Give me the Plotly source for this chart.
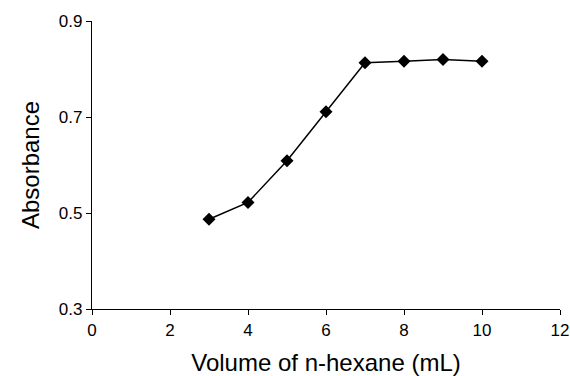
import plotly.graph_objects as go

volume_ml = [3, 4, 5, 6, 7, 8, 9, 10]
absorbance = [0.487, 0.522, 0.609, 0.711, 0.813, 0.816, 0.820, 0.816]
x_ticks = [0, 2, 4, 6, 8, 10, 12]
y_ticks = [0.3, 0.5, 0.7, 0.9]

fig = go.Figure(go.Scatter(
    x=volume_ml, y=absorbance, mode="lines+markers",
    line=dict(color="black", width=1.5),
    marker=dict(symbol="diamond", size=10, color="black"),
    showlegend=False,
))

font = "Liberation Sans, Arial, sans-serif"
fig.update_layout(
    width=570, height=376,
    margin=dict(l=92, r=10, t=21, b=67, autoexpand=False),
    plot_bgcolor="white", paper_bgcolor="white",
    font=dict(family=font, color="black"),
)
fig.update_xaxes(
    range=[0, 12], tickvals=x_ticks, ticktext=[str(v) for v in x_ticks],
    showgrid=False, zeroline=False, showline=True, linecolor="black", linewidth=1.3,
    ticks="outside", ticklen=5, tickwidth=1.3, tickcolor="black",
    tickfont=dict(size=17), automargin=False,
    title=dict(text="Volume of n-hexane (mL)", font=dict(size=24), standoff=17),
)
fig.update_yaxes(
    range=[0.3, 0.9], tickvals=y_ticks, ticktext=["0.3", "0.5", "0.7", "0.9"],
    showgrid=False, zeroline=False, showline=True, linecolor="black", linewidth=1.3,
    ticks="outside", ticklen=5, tickwidth=1.3, tickcolor="black",
    tickfont=dict(size=17), automargin=False,
    title=dict(text="Absorbance", font=dict(size=24), standoff=12),
)
fig.write_html(
    "out.html",
    config={"displayModeBar": False},
    post_script="document.body.style.margin='0';document.body.style.overflow='hidden';",
)
